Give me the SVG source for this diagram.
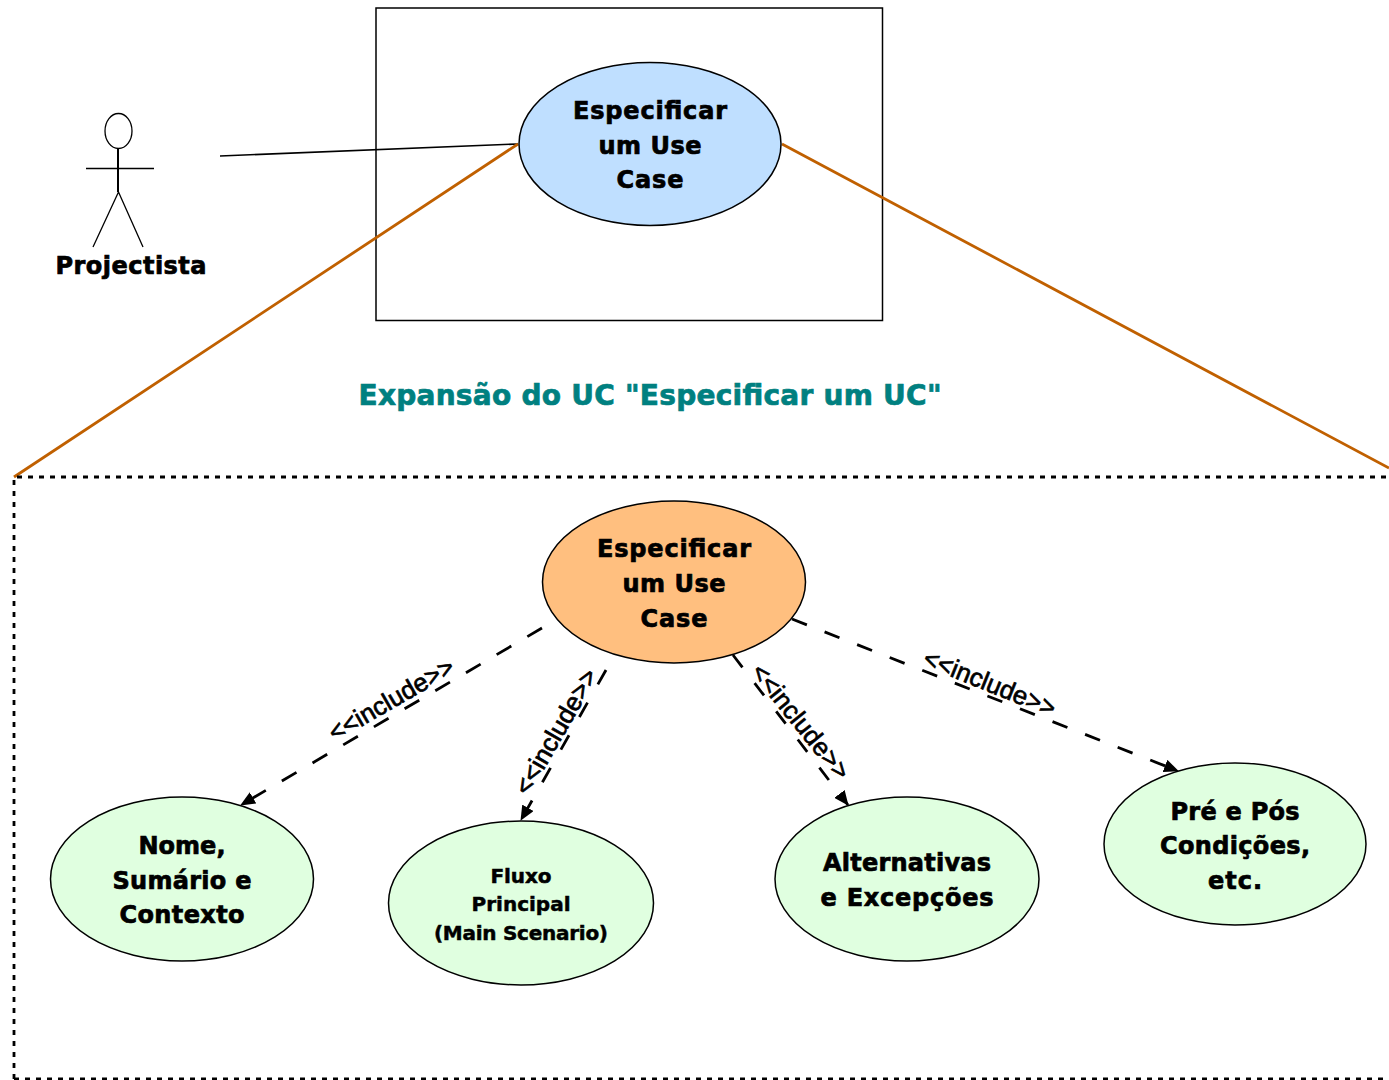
<svg xmlns="http://www.w3.org/2000/svg" width="1389" height="1080" viewBox="0 0 1389 1080">
<defs><marker id="a" markerWidth="15" markerHeight="13" refX="14" refY="6.500" orient="auto" markerUnits="userSpaceOnUse"><path d="M0 0L15 6.500L0 13Z" fill="#000"/></marker></defs>
<style>
text{font-family:"DejaVu Sans",sans-serif;font-weight:bold;text-anchor:middle;fill:#000;stroke:#000;stroke-width:.7px}
.l{font-size:24px}.s{font-size:20px;stroke-width:.5px}
.e{stroke:#000;stroke-width:1.5}
.g{fill:#e0ffe0}
.d{fill:none;stroke:#000;stroke-width:2.800;marker-end:url(#a)}
.o{fill:none;stroke:#c06000;stroke-width:2.800}
.i{font-family:"Liberation Sans",sans-serif;font-weight:normal;font-size:25.500px;stroke-width:.7px}
</style>
<rect width="1389" height="1080" fill="#fff"/>
<rect id="boundary" x="376" y="8" width="506.500" height="312.500" fill="none" stroke="#000" stroke-width="1.500"/>
<g id="actor"><g fill="none" stroke="#000" stroke-width="1.300"><ellipse cx="118.500" cy="131" rx="13.500" ry="17.500"/><path d="M86 168.500H154M118.500 192L93 247M118.500 192L143 247"/><path d="M118 148.500V192" stroke-width="2"/></g><text x="131" y="274" class="l" textLength="151">Projectista</text></g>
<g id="connectors">
<path d="M220 156L518 144" fill="none" stroke="#000" stroke-width="1.600"/>
<path class="o" d="M518 144L14 477M782 144L1389 468"/>
<path class="d" stroke-dasharray="17 18.600" d="M542 628L241 805"/><path class="d" stroke-dasharray="16.500 21" d="M606 670L521 820"/><path class="d" stroke-dasharray="15.500 20" d="M733 655L848 805"/><path class="d" stroke-dasharray="16 19" d="M792 619L1178 771"/>
<text class="i" transform="translate(395.500 707) rotate(-30)">&lt;&lt;include&gt;&gt;</text>
<text class="i" transform="translate(563.500 736) rotate(-60)">&lt;&lt;include&gt;&gt;</text>
<text class="i" transform="translate(794 727) rotate(51)">&lt;&lt;include&gt;&gt;</text>
<text class="i" transform="translate(986.500 691) rotate(22)">&lt;&lt;include&gt;&gt;</text>
</g>
<g id="uc-top"><ellipse class="e" cx="650" cy="144" rx="131" ry="81.500" fill="#bfdfff"/><text class="l" x="650" y="119" textLength="154">Especificar</text><text class="l" x="650" y="154" textLength="103">um Use</text><text class="l" x="650" y="188" textLength="67">Case</text></g>
<text id="title" x="650" y="405" textLength="583" style="font-size:28px;fill:#008080;stroke:#008080">Expansão do UC "Especificar um UC"</text>
<path id="frame" d="M14 1079V477H1389M14 1079H1389" fill="none" stroke="#000" stroke-width="2.800" stroke-dasharray="5 6"/>
<g id="uc-main"><ellipse class="e" cx="674" cy="582" rx="131.500" ry="81" fill="#ffbf7f"/><text class="l" x="674" y="557" textLength="154">Especificar</text><text class="l" x="674" y="592" textLength="103">um Use</text><text class="l" x="674" y="627" textLength="67">Case</text></g>
<g id="uc-nome"><ellipse class="e g" cx="182" cy="879" rx="131.500" ry="82"/><text class="l" x="182" y="854" textLength="87">Nome,</text><text class="l" x="182" y="889" textLength="139">Sumário e</text><text class="l" x="182" y="923" textLength="125">Contexto</text></g>
<g id="uc-fluxo"><ellipse class="e g" cx="521" cy="903" rx="132.500" ry="82"/><text class="s" x="521" y="883" textLength="61">Fluxo</text><text class="s" x="521" y="911" textLength="99">Principal</text><text class="s" x="521" y="940" textLength="174">(Main Scenario)</text></g>
<g id="uc-alt"><ellipse class="e g" cx="907" cy="879" rx="132" ry="82"/><text class="l" x="907" y="871" textLength="168">Alternativas</text><text class="l" x="907" y="906" textLength="173">e Excepções</text></g>
<g id="uc-pre"><ellipse class="e g" cx="1235" cy="844" rx="131" ry="81"/><text class="l" x="1235" y="820" textLength="129">Pré e Pós</text><text class="l" x="1235" y="854" textLength="150">Condições,</text><text class="l" x="1235" y="889" textLength="54">etc.</text></g>
</svg>
